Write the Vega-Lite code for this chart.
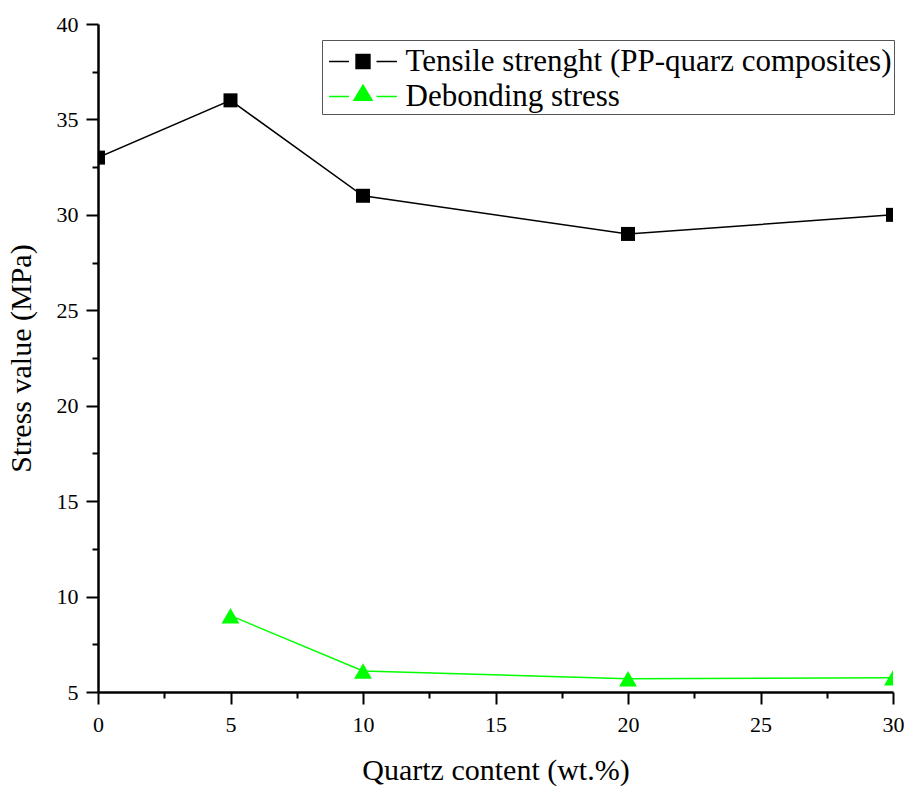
{
  "$schema": "https://vega.github.io/schema/vega-lite/v6.json",
  "autosize": "none",
  "padding": {"left": 98, "top": 24, "right": 16, "bottom": 95},
  "width": 795,
  "height": 668,
  "background": "white",
  "config": {
    "font": "Liberation Serif",
    "view": {"stroke": null},
    "axis": {
      "domainColor": "black",
      "domainWidth": 2.5,
      "tickColor": "black",
      "tickWidth": 2,
      "labelColor": "black",
      "labelFont": "Liberation Serif",
      "labelFontSize": 22,
      "titleFont": "Liberation Serif",
      "titleColor": "black",
      "titleFontSize": 30,
      "titleFontWeight": "normal",
      "grid": false,
      "labelOverlap": false,
      "labelBound": false,
      "labelFlush": false
    },
    "legend": {"labelFont": "Liberation Serif"}
  },
  "data": {
    "values": [
      {"q": 0, "stress": 33, "series": "Tensile strenght (PP-quarz composites)"},
      {"q": 5, "stress": 36, "series": "Tensile strenght (PP-quarz composites)"},
      {"q": 10, "stress": 31, "series": "Tensile strenght (PP-quarz composites)"},
      {"q": 20, "stress": 29, "series": "Tensile strenght (PP-quarz composites)"},
      {"q": 30, "stress": 30, "series": "Tensile strenght (PP-quarz composites)"},
      {"q": 5, "stress": 9, "series": "Debonding stress"},
      {"q": 10, "stress": 6.1, "series": "Debonding stress"},
      {"q": 20, "stress": 5.7, "series": "Debonding stress"},
      {"q": 30, "stress": 5.75, "series": "Debonding stress"}
    ]
  },
  "encoding": {
    "x": {
      "field": "q",
      "type": "quantitative",
      "scale": {"domain": [0, 30], "nice": false},
      "axis": {
        "title": "Quartz content (wt.%)",
        "values": [0, 2.5, 5, 7.5, 10, 12.5, 15, 17.5, 20, 22.5, 25, 27.5, 30],
        "labelExpr": "datum.value % 5 === 0 ? datum.label : ''",
        "tickSize": {"condition": {"test": "datum.value % 5 === 0", "value": 12}, "value": 6},
        "labelPadding": 10,
        "titlePadding": 20
      }
    },
    "y": {
      "field": "stress",
      "type": "quantitative",
      "scale": {"domain": [5, 40], "nice": false, "zero": false},
      "axis": {
        "title": "Stress value (MPa)",
        "values": [5, 7.5, 10, 12.5, 15, 17.5, 20, 22.5, 25, 27.5, 30, 32.5, 35, 37.5, 40],
        "labelExpr": "datum.value % 5 === 0 ? datum.label : ''",
        "tickSize": {"condition": {"test": "datum.value % 5 === 0", "value": 12}, "value": 6},
        "labelPadding": 8,
        "titlePadding": 20
      }
    }
  },
  "layer": [
    {
      "mark": {"type": "line", "strokeWidth": 1.5, "clip": true},
      "encoding": {
        "stroke": {
          "field": "series",
          "type": "nominal",
          "scale": {"domain": ["Tensile strenght (PP-quarz composites)", "Debonding stress"], "range": ["#000000", "#00ff00"]}
        },
        "order": {"field": "q", "type": "quantitative"}
      }
    },
    {
      "mark": {"type": "point", "filled": true, "opacity": 1, "strokeWidth": 0, "clip": true},
      "encoding": {
        "fill": {
          "field": "series",
          "type": "nominal",
          "scale": {"domain": ["Tensile strenght (PP-quarz composites)", "Debonding stress"], "range": ["#000000", "#00ff00"]}
        },
        "shape": {"condition": {"test": "datum.series === 'Debonding stress'", "value": "triangle-up"}, "value": "square"},
        "size": {"condition": {"test": "datum.series === 'Debonding stress'", "value": 320}, "value": 196}
      }
    },
    {
      "transform": [{"filter": "false"}],
      "mark": {"type": "point", "filled": true, "opacity": 1},
      "encoding": {
        "fill": {"field": "series", "type": "nominal"},
        "stroke": {"field": "series", "type": "nominal"},
        "shape": {
          "field": "series",
          "type": "nominal",
          "scale": {
            "domain": ["Tensile strenght (PP-quarz composites)", "Debonding stress"],
            "range": [
              "M-1.81,0H-0.75M0.72,0H1.81M-0.37,-0.37H0.37V0.37H-0.37Z",
              "M-1.81,0H-0.75M0.72,0H1.81M0,-0.6L0.48,0.2H-0.48Z"
            ]
          },
          "legend": {
            "title": null,
            "orient": "none",
            "legendX": 224,
            "legendY": 16,
            "symbolSize": 1406,
            "symbolOffset": 19.5,
            "symbolStrokeWidth": 1.5,
            "labelFont": "Liberation Serif",
            "labelFontSize": 31,
            "labelColor": "black",
            "labelOffset": 23,
            "labelLimit": 0,
            "rowPadding": 0,
            "padding": 2,
            "strokeColor": "#555555",
            "fillColor": "white"
          }
        }
      }
    }
  ]
}
